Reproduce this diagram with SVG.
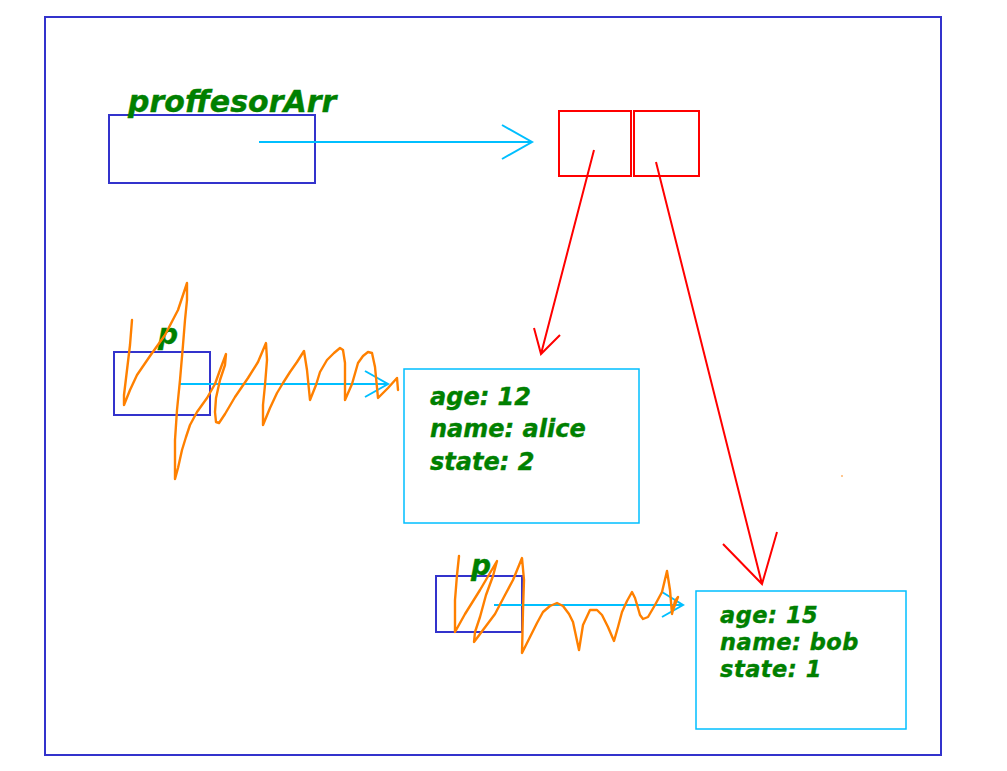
<svg xmlns="http://www.w3.org/2000/svg" width="1007" height="771" viewBox="0 0 1007 771">
<style>
.frame{fill:none;stroke:#3333cc;stroke-width:2}
.redbox{fill:none;stroke:#ff0000;stroke-width:2}
.objbox{fill:none;stroke:#00bfff;stroke-width:1.5}
.lbl{font-family:"DejaVu Sans",sans-serif;font-weight:bold;font-style:italic;fill:#008000;stroke:#008000;stroke-width:0.4}
.blue{fill:none;stroke:#00bfff;stroke-width:2}
.red{fill:none;stroke:#ff0000;stroke-width:2}
.scribble{fill:none;stroke:#ff8000;stroke-width:2.4;stroke-linejoin:round;stroke-linecap:round}
</style>
<rect x="0" y="0" width="1007" height="771" fill="#ffffff"/>
<rect id="outer" class="frame" x="45" y="17" width="896" height="738"/>
<g id="proffesorArr">
<rect class="frame" x="109" y="115" width="206" height="68"/>
<text class="lbl" x="128" y="112" font-size="30">proffesorArr</text>
</g>
<g id="array">
<rect class="redbox" x="559" y="111" width="72" height="65"/>
<rect class="redbox" x="634" y="111" width="65" height="65"/>
</g>
<g id="p1">
<rect class="frame" x="114" y="352" width="96" height="63"/>
<text class="lbl" x="158" y="344" font-size="28">p</text>
</g>
<g id="alice">
<rect class="objbox" x="404" y="369" width="235" height="154"/>
<text class="lbl" font-size="24"><tspan x="430" y="405">age: 12</tspan><tspan x="430" y="437">name: alice</tspan><tspan x="430" y="470">state: 2</tspan></text>
</g>
<g id="p2">
<rect class="frame" x="436" y="576" width="86" height="56"/>
<text class="lbl" x="471" y="575" font-size="28">p</text>
</g>
<g id="bob">
<rect class="objbox" x="696" y="591" width="210" height="138"/>
<text class="lbl" font-size="22.5" letter-spacing="0.5"><tspan x="720" y="623">age: 15</tspan><tspan x="720" y="650">name: bob</tspan><tspan x="720" y="677">state: 1</tspan></text>
</g>
<g id="connectors">
<path class="blue" d="M259,142 L532,142 M502,125 L532,142 L502,159"/>
<path class="red" d="M594,150 L541,354 M534,328 L541,354 L560,335"/>
<path class="red" d="M656,162 L762,584 M723,544 L762,584 L777,532"/>
<path class="blue" d="M180,384 L388,384 M365,371 L388,384 L365,397"/>
<path class="blue" d="M494,605 L683,605 M662,592 L683,605 L662,617"/>
</g>
<g id="scribbles">
<path class="scribble" d="M132,320 L130,345 L127,370 L124,395 L124,405 L130,390 L137,375 L150,356 L165,335 L178,310 L187,283 L187,300 L185,320 L183,345 L180,380 L177,410 L175,440 L175,479 L178,468 L182,450 L186,437 L190,425 L197,412 L207,398 L215,384 L220,370 L226,354 L225,365 L220,380 L216,398 L215,412 L216,422 L219,423 L225,414 L235,397 L248,378 L258,362 L266,343 L267,360 L265,385 L263,405 L263,425 L270,408 L277,393 L283,383 L290,372 L297,362 L304,351 L307,370 L310,400 L316,385 L320,372 L327,360 L334,353 L340,348 L343,350 L345,363 L345,400 L352,384 L358,363 L363,356 L368,352 L372,353 L375,367 L378,398 L388,388 L397,378 L398,390"/>
<path class="scribble" d="M459,556 L457,575 L455,600 L455,632 L465,614 L480,590 L497,561 L493,576 L486,595 L480,617 L475,632 L474,642 L483,630 L495,614 L505,595 L513,580 L522,558 L524,580 L523,610 L522,653 L530,637 L537,623 L543,612 L550,606 L557,603 L563,606 L569,614 L573,622 L579,650 L583,625 L590,610 L597,610 L602,615 L608,627 L614,641 L618,627 L622,612 L627,601 L632,592 L635,598 L638,608 L640,615 L643,619 L648,617 L655,605 L662,592 L667,571 L670,590 L672,614 L675,601 L678,597 L673,610"/>
<circle cx="842" cy="476" r="0.8" fill="#ff8000"/>
</g>
</svg>
